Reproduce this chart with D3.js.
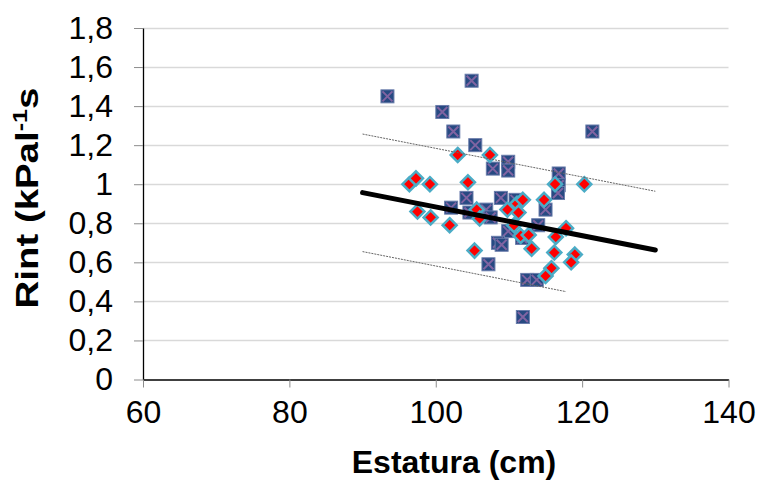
<!DOCTYPE html>
<html>
<head>
<meta charset="utf-8">
<script src="https://cdn.jsdelivr.net/npm/d3@7"></script>
<style>
  body { margin: 0; background: #fff; }
  svg { display: block; font-family: 'Liberation Sans', Arial, sans-serif; }
</style>
</head>
<body>
<div id="chart"></div>
<script>
const width = 758;
const height = 483;

// blue squares with purple cross
const squareX = [93.4, 104.9, 100.9, 102.4, 105.4, 121.4, 107.8, 109.9, 109.9, 116.8,
  116.8, 116.7, 102.1, 104.2, 104.6, 108.9, 110.9, 115.0, 106.9, 107.5,
  114.0, 109.9, 111.8, 108.5, 109.0, 107.2, 112.5, 113.8, 111.9];
const squareY = [1.45, 1.53, 1.37, 1.27, 1.20, 1.27, 1.08, 1.115, 1.07, 1.055,
  0.995, 0.955, 0.88, 0.93, 0.855, 0.93, 0.92, 0.87, 0.87, 0.83,
  0.79, 0.76, 0.725, 0.70, 0.69, 0.59, 0.51, 0.51, 0.32];

// red diamonds
const diamondX = [96.4, 97.3, 99.2, 103.0, 107.4, 104.4, 116.3, 120.3, 97.5, 99.3,
  101.9, 105.6, 106.0, 109.8, 111.1, 111.9, 111.3, 114.8, 110.7, 117.8,
  111.6, 112.7, 116.4, 105.3, 113.1, 116.2, 119.0, 118.5, 115.8, 115.0];
const diamondY = [1.0, 1.03, 1.0, 1.15, 1.15, 1.01, 1.0, 1.0, 0.86, 0.83,
  0.79, 0.87, 0.825, 0.87, 0.90, 0.92, 0.855, 0.92, 0.79, 0.775,
  0.735, 0.74, 0.73, 0.66, 0.67, 0.65, 0.64, 0.60, 0.57, 0.53];

// trend line and its bands
const trendX = [90, 130];
const trendY = [0.957, 0.663];
const upperX = [90, 130];
const upperY = [1.257, 0.964];
const lowerX = [90, 117.8];
const lowerY = [0.655, 0.45];

const xTicks = [60, 80, 100, 120, 140];
const yTicks = [0, 0.2, 0.4, 0.6, 0.8, 1, 1.2, 1.4, 1.6, 1.8];

const plotL = 143, plotR = 728.5, plotT = 28, plotB = 379.5;

const svg = d3.select('#chart').append('svg')
  .attr('width', width)
  .attr('height', height);

const x = d3.scaleLinear().domain([60, 140]).range([plotL, plotR]);
const y = d3.scaleLinear().domain([0, 1.8]).range([plotB, plotT]);

const fmt = d => String(d).replace('.', ',');

// gridlines
svg.append('g')
  .selectAll('line')
  .data(yTicks.filter(d => d > 0))
  .enter().append('line')
    .attr('x1', plotL).attr('x2', plotR)
    .attr('y1', d => Math.round(y(d)) + 0.5)
    .attr('y2', d => Math.round(y(d)) + 0.5)
    .attr('stroke', '#d9d9d9')
    .attr('stroke-width', 1.5);

// axes
const yAxis = svg.append('g')
  .attr('transform', `translate(${plotL},0)`)
  .call(d3.axisLeft(y).tickValues(yTicks).tickFormat(fmt).tickSize(9).tickPadding(21).tickSizeOuter(0));
const xAxis = svg.append('g')
  .attr('transform', `translate(0,${plotB})`)
  .call(d3.axisBottom(x).tickValues(xTicks).tickSize(8).tickPadding(13).tickSizeOuter(0));

[xAxis, yAxis].forEach(a => {
  a.select('.domain').attr('stroke', '#000').attr('stroke-width', 1.3);
  a.selectAll('.tick line').attr('stroke', '#8c8c8c');
  a.selectAll('.tick text')
    .attr('fill', '#000')
    .attr('font-size', '32px')
    .attr('font-family', "'Liberation Sans', Arial, sans-serif");
});

// squares
const sq = svg.append('g')
  .selectAll('g')
  .data(squareX.map((d, i) => [d, squareY[i]]))
  .enter().append('g')
    .attr('transform', d => `translate(${x(d[0])},${y(d[1])})`);
sq.append('rect')
  .attr('x', -6.5).attr('y', -6.5)
  .attr('width', 13).attr('height', 13)
  .attr('fill', '#274a82')
  .attr('stroke', '#6a7cab')
  .attr('stroke-width', 1);
sq.append('path')
  .attr('d', 'M-5,-5L5,5M-5,5L5,-5')
  .attr('stroke', '#8064a2')
  .attr('stroke-width', 2);

// diamonds
svg.append('g')
  .selectAll('path')
  .data(diamondX.map((d, i) => [d, diamondY[i]]))
  .enter().append('path')
    .attr('transform', d => `translate(${x(d[0])},${y(d[1])})`)
    .attr('d', 'M0,-7L7,0L0,7L-7,0Z')
    .attr('fill', '#ff0000')
    .attr('stroke', '#4bacc6')
    .attr('stroke-width', 2.5);

// trend lines
const line = d3.line().x(d => x(d[0])).y(d => y(d[1]));
const band = (xs, ys) => xs.map((d, i) => [d, ys[i]]);

svg.append('path')
  .datum(band(upperX, upperY))
  .attr('d', line)
  .attr('fill', 'none')
  .attr('stroke', '#666')
  .attr('stroke-width', 1)
  .attr('stroke-dasharray', '2,1');
svg.append('path')
  .datum(band(lowerX, lowerY))
  .attr('d', line)
  .attr('fill', 'none')
  .attr('stroke', '#666')
  .attr('stroke-width', 1)
  .attr('stroke-dasharray', '2,1');
svg.append('path')
  .datum(band(trendX, trendY))
  .attr('d', line)
  .attr('fill', 'none')
  .attr('stroke', '#000')
  .attr('stroke-width', 5)
  .attr('stroke-linecap', 'round');

// titles
svg.append('text')
  .attr('x', 454)
  .attr('y', 473)
  .attr('text-anchor', 'middle')
  .attr('font-size', '32px')
  .attr('font-weight', 'bold')
  .text('Estatura (cm)');

const yt = svg.append('text')
  .attr('transform', 'translate(38,198) rotate(-90) scale(1.2,1)')
  .attr('text-anchor', 'middle')
  .attr('font-size', '32px')
  .attr('font-weight', 'bold');
yt.append('tspan').text('Rint (kPal');
yt.append('tspan').attr('dy', -11).attr('font-size', '21px').text('-1');
yt.append('tspan').attr('dy', 11).text('s');
</script>
</body>
</html>
